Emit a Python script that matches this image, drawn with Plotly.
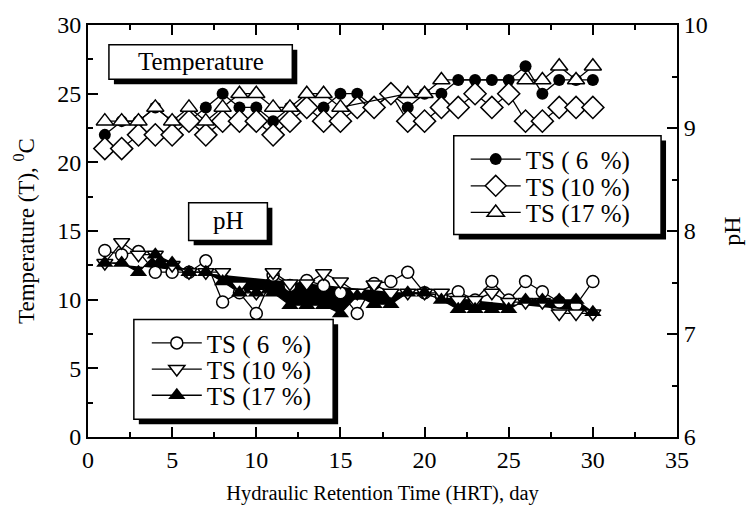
import plotly.graph_objects as go

# ---------------- data ----------------
days = list(range(1, 31))

# Temperature (left axis, deg C)
temp_ts6 = [22, 23, 23, 24, 23, 23, 24, 25, 24, 24, 23, 24, 24, 24, 25, 25, 24, 25, 24, 25,
            25, 26, 26, 26, 26, 27, 25, 26, 26, 26]
temp_ts10 = [21, 21, 22, 22, 22, 23, 22, 23, 23, 23, 22, 23, 24, 23, 23, 24, 24, 25, 23, 23,
             24, 24, 25, 24, 25, 23, 23, 24, 24, 24]
temp_ts17 = [23, 23, 23, 24, 23, 24, 23, 24, 25, 25, 24, 24, 25, 25, 24, None, None, None, 25, 25,
             26, None, None, None, None, 26, 26, 27, 26, 27]

# pH (right axis)
ph_ts6 = [7.81, 7.77, 7.80, 7.60, 7.60, 7.60, 7.71, 7.31, 7.40, 7.20, 7.57, 7.47, 7.52, 7.47, 7.40,
          7.20, 7.49, 7.51, 7.60, 7.40, 7.37, 7.41, 7.33, 7.51, 7.33, 7.51, 7.41, 7.31, 7.28, 7.51]
ph_ts10 = [7.69, 7.89, 7.77, 7.77, 7.67, 7.60, 7.60, 7.60, 7.47, 7.40, 7.60, 7.49, 7.49, 7.59, 7.51,
           7.40, 7.48, 7.40, 7.40, 7.40, 7.40, 7.33, 7.33, 7.40, 7.31, 7.31, 7.31, 7.20, 7.20, 7.20]
ph_ts17 = [7.69, 7.69, 7.60, 7.77, 7.69, 7.60, 7.60, 7.51, 7.40, 7.40, 7.40, 7.28, 7.28, 7.28, 7.20,
           7.37, 7.29, 7.29, 7.40, 7.40, 7.33, 7.24, 7.24, 7.24, 7.24, 7.33, 7.33, 7.33, 7.33, 7.21]

labels = ["TS (\u00a06\u00a0\u00a0%)", "TS (10 %)", "TS (17 %)"]

# ---------------- figure ----------------
W, H = 753, 516
ML, MR, MT, MB = 88, 74, 20, 79
PW, PH = W - ML - MR, H - MT - MB
FONT = "Liberation Serif, Times New Roman, serif"


def px(x):
    return (x - ML) / PW


def py(y):
    return (H - MB - y) / PH


fig = go.Figure()

line = dict(color="black", width=1.3)
open_mk = dict(color="black", width=1.5)

# temperature traces
fig.add_trace(go.Scatter(x=days, y=temp_ts6, name=labels[0], mode="lines+markers", connectgaps=True,
                         line=line, marker=dict(symbol="circle", size=12, color="black"),
                         legend="legend"))
fig.add_trace(go.Scatter(x=days, y=temp_ts10, name=labels[1], mode="lines+markers", connectgaps=True,
                         line=line, marker=dict(symbol="diamond", size=17, color="white", line=open_mk),
                         legend="legend2"))
fig.add_trace(go.Scatter(x=days, y=temp_ts17, name=labels[2], mode="lines+markers", connectgaps=True,
                         line=line, marker=dict(symbol="triangle-up", size=15, color="white", line=open_mk),
                         legend="legend3"))

# pH traces (the TS 17 % series is drawn as a closed filled polygon, as in the original)
fig.add_trace(go.Scatter(x=days, y=ph_ts17, mode="none", yaxis="y2", fill="toself",
                         fillcolor="black", showlegend=False, hoverinfo="skip"))
fig.add_trace(go.Scatter(x=days, y=ph_ts6, name=labels[0], mode="lines+markers", yaxis="y2",
                         line=line, marker=dict(symbol="circle", size=12, color="white", line=open_mk),
                         legend="legend4"))
fig.add_trace(go.Scatter(x=days, y=ph_ts10, name=labels[1], mode="lines+markers", yaxis="y2",
                         line=line, marker=dict(symbol="triangle-down", size=14, color="white", line=open_mk),
                         legend="legend5"))
fig.add_trace(go.Scatter(x=days, y=ph_ts17, name=labels[2], mode="lines+markers", yaxis="y2",
                         line=line, marker=dict(symbol="triangle-up", size=15, color="black"),
                         legend="legend6"))

# boxes with drop shadows (paper coords from pixel positions)
boxes = [
    (109, 40, 293, 75),   # Temperature label
    (189, 200, 268, 238),  # pH label
    (455, 132, 663, 232),  # upper-right legend
    (134, 318, 334, 419),  # lower-left legend
]
shapes = []
for (x0, y0, x1, y1) in boxes:
    shapes.append(dict(type="rect", xref="paper", yref="paper", layer="above",
                       x0=px(x0 + 5), x1=px(x1 + 5), y0=py(y1 + 5), y1=py(y0 + 5),
                       fillcolor="black", line=dict(width=0)))
    shapes.append(dict(type="rect", xref="paper", yref="paper", layer="above",
                       x0=px(x0), x1=px(x1), y0=py(y1), y1=py(y0),
                       fillcolor="white", line=dict(color="black", width=1.5)))

annotations = [
    dict(text="Temperature", xref="paper", yref="paper", x=px(201), y=py(57), showarrow=False,
         font=dict(size=25, family=FONT, color="black"), xanchor="center", yanchor="middle"),
    dict(text="pH", xref="paper", yref="paper", x=px(228.5), y=py(218), showarrow=False,
         font=dict(size=25, family=FONT, color="black"), xanchor="center", yanchor="middle"),
]

axis_common = dict(showline=True, linecolor="black", linewidth=2, ticks="inside", tickwidth=2,
                   ticklen=10, tickcolor="black", showgrid=False, zeroline=False,
                   tickfont=dict(size=24, family=FONT, color="black"))


def leg(xpix, ypix):
    return dict(x=px(xpix), y=py(ypix), xanchor="left", yanchor="middle", bgcolor="rgba(0,0,0,0)",
                borderwidth=0, font=dict(size=25, family=FONT, color="black"), itemwidth=50,
                tracegroupgap=0)


fig.update_layout(
    width=W, height=H,
    margin=dict(l=ML, r=MR, t=MT, b=MB),
    paper_bgcolor="white", plot_bgcolor="white",
    font=dict(family=FONT, color="black"),
    xaxis=dict(range=[0, 35], dtick=5, mirror="ticks",
               minor=dict(dtick=2.5, ticks="inside", ticklen=5, tickwidth=2, tickcolor="black"),
               title=dict(text="Hydraulic Retention Time (HRT), day", font=dict(size=20.5, family=FONT),
                          standoff=14),
               **axis_common),
    yaxis=dict(range=[0, 30], dtick=5,
               minor=dict(dtick=2.5, ticks="inside", ticklen=5, tickwidth=2, tickcolor="black"),
               title=dict(text="Temperature (T), <sup>0</sup>C", font=dict(size=23, family=FONT),
                          standoff=16),
               **axis_common),
    yaxis2=dict(range=[6, 10], dtick=1, overlaying="y", side="right",
                minor=dict(dtick=0.5, ticks="inside", ticklen=5, tickwidth=2, tickcolor="black"),
                title=dict(text="pH", font=dict(size=24, family=FONT), standoff=16),
                **axis_common),
    legend=leg(467, 156),
    legend2=leg(467, 183),
    legend3=leg(467, 210),
    legend4=leg(147, 342),
    legend5=leg(147, 368.5),
    legend6=leg(147, 395),
    shapes=shapes,
    annotations=annotations,
    showlegend=True,
)

fig.write_html("out.html", config={"displayModeBar": False},
               post_script="document.body.style.margin='0';")
